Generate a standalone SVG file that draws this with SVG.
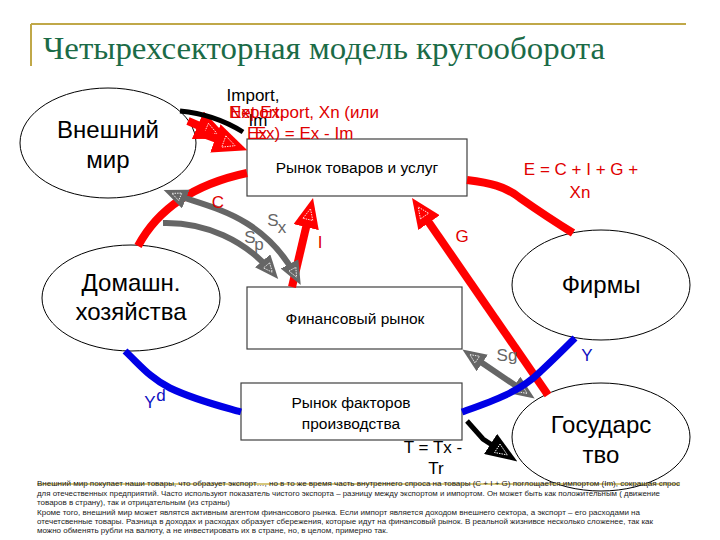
<svg xmlns="http://www.w3.org/2000/svg" width="720" height="540" viewBox="0 0 720 540">
<style>
.node{fill:#fff;stroke:#000;stroke-width:1}
.box{fill:#fff;stroke:#404040;stroke-width:1.2}
.big{font-family:"Liberation Sans",Arial,sans-serif;font-size:24px;fill:#000;text-anchor:middle}
.mid{font-family:"Liberation Sans",Arial,sans-serif;font-size:15.5px;fill:#000;text-anchor:middle}
.lab{font-family:"Liberation Sans",Arial,sans-serif;font-size:17px;text-anchor:middle}
.red{fill:#e00000}
.blue{fill:#1010c0}
.gray{fill:#666}
.blk{fill:#000}
.rl{fill:none;stroke:#ff0000;stroke-width:8}
.bl{fill:none;stroke:#0000e6;stroke-width:7}
.gl{fill:none;stroke:#666;stroke-width:6}
.kl{fill:none;stroke:#000;stroke-width:5}
.note{font-family:"Liberation Sans",Arial,sans-serif;font-size:8px;fill:#222}
</style>
<defs>
<marker id="ar" viewBox="0 0 30 26" refX="20" refY="13" markerWidth="30" markerHeight="26" markerUnits="userSpaceOnUse" orient="auto-start-reverse">
<path d="M0,0 L30,13 L0,26 Z" fill="#ff0000"/>
<path d="M8,8 L19,13 L8,18 Z" fill="none" stroke="#fff" stroke-width="0.8" stroke-dasharray="1.5,1"/>
</marker>
<marker id="ar2" viewBox="0 0 34 30" refX="22" refY="15" markerWidth="34" markerHeight="30" markerUnits="userSpaceOnUse" orient="auto-start-reverse">
<path d="M0,0 L34,15 L0,30 Z" fill="#ff0000"/>
<path d="M9,9 L21,15 L9,21 Z" fill="none" stroke="#fff" stroke-width="0.8" stroke-dasharray="1.5,1"/>
</marker>
<marker id="ag" viewBox="0 0 24 20" refX="16" refY="10" markerWidth="24" markerHeight="20" markerUnits="userSpaceOnUse" orient="auto-start-reverse">
<path d="M0,0 L24,10 L0,20 Z" fill="#666"/>
<path d="M6,6 L15,10 L6,14 Z" fill="none" stroke="#fff" stroke-width="0.8" stroke-dasharray="1.5,1"/>
</marker>
<marker id="ak" viewBox="0 0 32 24" refX="22" refY="12" markerWidth="32" markerHeight="24" markerUnits="userSpaceOnUse" orient="auto-start-reverse">
<path d="M0,0 L32,12 L0,24 Z" fill="#000"/>
<path d="M8,7 L20,12 L8,17 Z" fill="none" stroke="#fff" stroke-width="0.9" stroke-dasharray="1.5,1"/>
</marker>
</defs>

<g id="title">
<line x1="31" y1="24" x2="686" y2="24" stroke="#c0a848" stroke-width="2"/>
<line x1="31" y1="24" x2="31" y2="66" stroke="#c0a848" stroke-width="2"/>
<text x="43" y="59" font-family="'Liberation Serif', 'DejaVu Serif', serif" font-size="32" font-weight="400" fill="#1b6b47" textLength="562" lengthAdjust="spacingAndGlyphs">Четырехсекторная модель кругооборота</text>
</g>

<g id="world"><ellipse class="node" cx="108" cy="143" rx="88" ry="55"/><text class="big" x="108" y="138">Внешний</text><text class="big" x="108" y="168">мир</text></g>
<g id="goods"><rect class="box" x="247" y="139" width="220" height="57"/><text class="mid" x="357" y="173" font-size="16">Рынок товаров и услуг</text></g>
<g id="households"><ellipse class="node" cx="131" cy="298" rx="89" ry="53"/><text class="big" x="131" y="291">Домашн.</text><text class="big" x="131" y="320">хозяйства</text></g>
<g id="finance"><rect class="box" x="247" y="287" width="215" height="62"/><text class="mid" x="355" y="324">Финансовый рынок</text></g>
<g id="factors"><rect class="box" x="241" y="383" width="221" height="57"/><text class="mid" x="351" y="408">Рынок факторов</text><text class="mid" x="351" y="429">производства</text></g>
<g id="firms"><ellipse class="node" cx="601" cy="285" rx="89" ry="55"/><text class="big" x="601" y="293">Фирмы</text></g>
<g id="gov"><ellipse class="node" cx="601" cy="437" rx="89" ry="54"/><text class="big" x="601" y="433">Государс</text><text class="big" x="601" y="463">тво</text></g>

<g id="connectors">
<path class="rl" d="M138,246 C160,205 200,183 247,173"/>
<path class="rl" d="M467,180 C490,183 505,186 520,198 C540,212 560,225 573,233"/>
<path class="rl" d="M292,287 L310.7,207.7" marker-end="url(#ar)"/>
<path class="rl" d="M548,395 L417.7,206.2" marker-end="url(#ar)"/>
<path class="rl" d="M188,121 L218,134" marker-end="url(#ar2)"/>
<path class="rl" d="M198,132 L236,146" marker-end="url(#ar2)"/>
<path class="kl" d="M180,111 Q214,114 243,132"/>
<path class="gl" d="M171,193 C205,207 262,212 297,278" marker-start="url(#ag)" marker-end="url(#ag)"/>
<path class="gl" d="M163,223 C205,222 245,240 273,273" marker-end="url(#ag)"/>
<path class="gl" d="M469,354 L528,394" marker-start="url(#ag)" marker-end="url(#ag)"/>
<path class="bl" d="M125,351 C140,365 150,378 170,388 C195,400 220,406 241,412"/>
<path class="bl" d="M462,412 C490,402 520,392 540,372 C555,358 565,348 575,338"/>
<path class="kl" d="M467,421 L483,439 L509,456" marker-end="url(#ak)"/>
</g>

<g id="labels">
<text class="lab blk" x="253" y="101" font-size="15">Import,</text>
<text class="lab blk" x="258" y="126" font-size="15">Im</text>
<text class="lab red" x="304" y="118">Net Export, Xn (или</text>
<text class="lab red" x="304" y="139">Ex) = Ex - Im</text>
<text class="lab red" x="257" y="118">Export,</text>
<text class="lab red" x="257" y="139">Ex</text>
<text class="lab red" x="581" y="175">E = C + I + G +</text>
<text class="lab red" x="580" y="198">Xn</text>
<text class="lab red" x="218" y="208">C</text>
<text class="lab red" x="320" y="248">I</text>
<text class="lab red" x="462" y="242">G</text>
<text class="lab gray" x="273" y="226" font-size="18">S</text>
<text class="lab gray" x="282" y="233" font-size="12">x</text>
<text class="lab gray" x="250" y="243" font-size="18">S</text>
<text class="lab gray" x="259" y="250" font-size="12">p</text>
<text class="lab gray" x="507" y="361" font-size="18">Sg</text>
<text class="lab blue" x="587" y="361" font-size="16">Y</text>
<text class="lab blue" x="150" y="408" font-size="16">Y</text>
<text class="lab blue" x="161" y="401" font-size="10">d</text>
<text class="lab blk" x="433" y="453" font-size="15">T = Tx -</text>
<text class="lab blk" x="436" y="474" font-size="15">Tr</text>
</g>

<g id="note">
<line x1="37" y1="484" x2="680" y2="484" stroke="#c8b450" stroke-width="1.5"/>
<text class="note" x="37" y="486" textLength="643" lengthAdjust="spacingAndGlyphs">Внешний мир покупает наши товары, что образует экспорт…, но в то же время часть внутреннего спроса на товары (C + I + G) поглощается импортом (Im), сокращая спрос</text>
<text class="note" x="37" y="496" textLength="623" lengthAdjust="spacingAndGlyphs">для отечественных предприятий. Часто используют показатель чистого экспорта – разницу между экспортом и импортом. Он может быть как положительным ( движение</text>
<text class="note" x="37" y="505" textLength="193" lengthAdjust="spacingAndGlyphs">товаров в страну), так и отрицательным (из страны)</text>
<text class="note" x="37" y="515" textLength="603" lengthAdjust="spacingAndGlyphs">Кроме того, внешний мир может являтся активным агентом финансового рынка. Если импорт является доходом внешнего сектора, а экспорт – его расходами на</text>
<text class="note" x="37" y="524" textLength="616" lengthAdjust="spacingAndGlyphs">отечетсвенные товары. Разница в доходах и расходах образует сбережения, которые идут на финансовый рынок. В реальной жизнивсе несколько сложенее, так как</text>
<text class="note" x="37" y="533" textLength="351" lengthAdjust="spacingAndGlyphs">можно обменять рубли на валюту, а не инвестировать их в стране, но, в целом, примерно так.</text>
</g>
</svg>
